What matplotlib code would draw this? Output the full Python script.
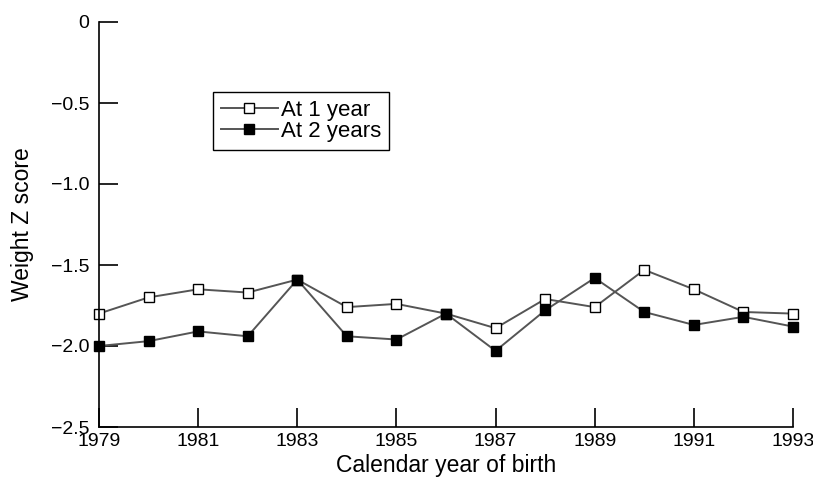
import numpy as np
import matplotlib
matplotlib.use("Agg")
import matplotlib.pyplot as plt
from matplotlib import font_manager

plt.rcParams["font.family"] = ["Liberation Sans", "DejaVu Sans"]

# data
years = [1979, 1980, 1981, 1982, 1983, 1984, 1985, 1986,
         1987, 1988, 1989, 1990, 1991, 1992, 1993]
at_1_year = [-1.80, -1.70, -1.65, -1.67, -1.59, -1.76, -1.74, -1.80,
             -1.89, -1.71, -1.76, -1.53, -1.65, -1.79, -1.80]
at_2_years = [-2.00, -1.97, -1.91, -1.94, -1.59, -1.94, -1.96, -1.80,
              -2.03, -1.78, -1.58, -1.79, -1.87, -1.82, -1.88]

x_ticks = [1979, 1981, 1983, 1985, 1987, 1989, 1991, 1993]
y_ticks = [-2.5, -2.0, -1.5, -1.0, -0.5, 0]
y_labels = ["\u22122.5", "\u22122.0", "\u22121.5", "\u22121.0", "\u22120.5", "0"]

# tick labels in the reference use a condensed face
installed = {f.name for f in font_manager.fontManager.ttflist}
tick_family = "Liberation Sans Narrow" if "Liberation Sans Narrow" in installed else "Liberation Sans"

fig = plt.figure(figsize=(8.13, 4.84), dpi=100)
ax = fig.add_axes([99 / 813, 1 - 427 / 484, 694 / 813, 405 / 484])

line_kw = dict(color="#555555", linewidth=1.4, marker="s", markersize=7.5,
               markeredgecolor="black", markeredgewidth=1.0, clip_on=False)
ax.plot(years, at_1_year, markerfacecolor="white", label="At 1 year", **line_kw)
ax.plot(years, at_2_years, markerfacecolor="black", label="At 2 years", **line_kw)

ax.set_xlim(1979, 1993)
ax.set_ylim(-2.5, 0)
ax.set_xticks(x_ticks)
ax.set_yticks(y_ticks)
ax.set_yticklabels(y_labels)

for side in ["top", "right"]:
    ax.spines[side].set_visible(False)
for side in ["left", "bottom"]:
    ax.spines[side].set_linewidth(1.2)

ax.tick_params(axis="both", direction="in", length=14, width=1.2,
               labelsize=14, colors="black")
ax.tick_params(axis="y", pad=7)
ax.tick_params(axis="x", pad=4)
for lab in ax.get_xticklabels() + ax.get_yticklabels():
    lab.set_family([tick_family, "DejaVu Sans"])

ax.set_xlabel("Calendar year of birth", fontsize=16.5, labelpad=3)
ax.set_ylabel("Weight Z score", fontsize=16.5, labelpad=12)

leg = ax.legend(loc="upper left", bbox_to_anchor=(0.164, 0.827),
                borderaxespad=0, fontsize=16, handlelength=2.6,
                handletextpad=0.1, labelspacing=0.0, borderpad=0.35,
                fancybox=False, framealpha=1)
leg.get_frame().set_edgecolor("black")
leg.get_frame().set_linewidth(1.0)

plt.savefig("out.png", dpi=100)
plt.close()
